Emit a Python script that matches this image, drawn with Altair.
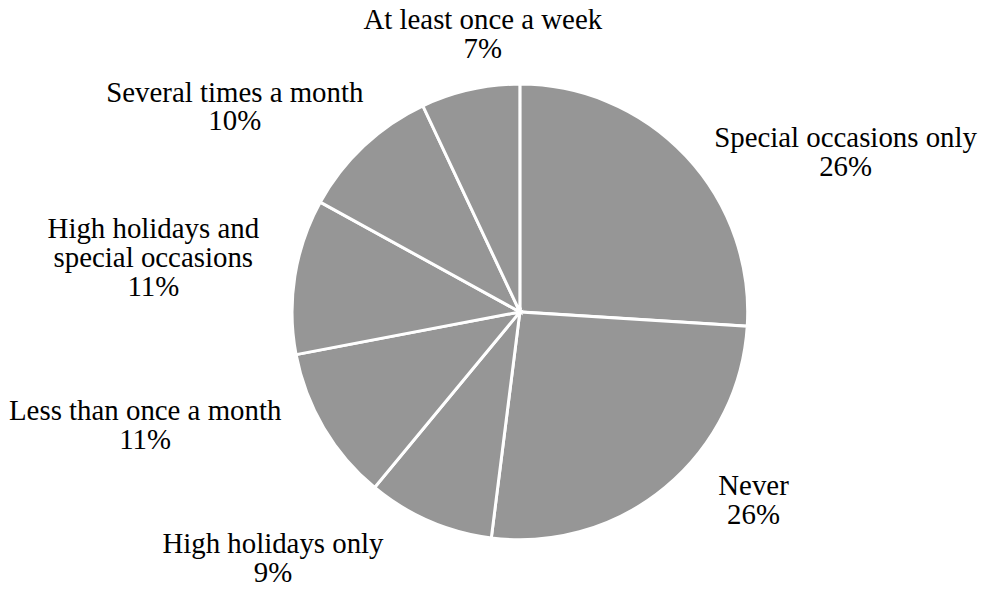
import altair as alt
import pandas as pd

# ---- data ----
categories = [
    "Special occasions only",
    "Never",
    "High holidays only",
    "Less than once a month",
    "High holidays and special occasions",
    "Several times a month",
    "At least once a week",
]
display_labels = [
    "Special occasions only",
    "Never",
    "High holidays only",
    "Less than once a month",
    "High holidays and\nspecial occasions",
    "Several times a month",
    "At least once a week",
]
shares = [26, 26, 9, 11, 11, 10, 7]

df = pd.DataFrame({
    "idx": list(range(len(categories))),
    "cat": categories,
    "lab": display_labels,
    "value": shares,
})

# ---- layout / style (not data) ----
W, H = 975, 576
CX, CY = 514.5, 304          # pie centre inside the view
R_PIE = 229
R_LAB = 290
FONT = "Liberation Serif"
FSIZE = 29
GREY = "#969696"
# per-label nudges (dx, dy) away from the slice's mid-angle anchor
NUDGE = {
    "Special occasions only": (116, 24),
    "Never": (50, -48),
    "High holidays only": (-133, -33),
    "Less than once a month": (-127, -48),
    "High holidays and special occasions": (-82, -38),
    "Several times a month": (-88, -9),
    "At least once a week": (26, -10),
}

base = alt.Chart(df)

pie = base.mark_arc(
    outerRadius=R_PIE, fill=GREY, stroke="white", strokeWidth=3
).encode(
    theta=alt.Theta("value:Q", stack=True),
    order=alt.Order("idx:Q"),
    detail="cat:N",
    x=alt.value(CX),
    y=alt.value(CY),
)

label_layers = []
for cat in categories:
    dx, dy = NUDGE[cat]
    lay = base.transform_window(
        cum="sum(value)", sort=[alt.SortField("idx")]
    ).transform_calculate(
        mid="datum.cum - datum.value / 2",
        label="datum.lab + '\\n' + datum.value + '%'",
    ).transform_filter(
        alt.datum.cat == cat
    ).mark_text(
        radius=R_LAB, dx=dx, dy=dy, align="center", baseline="middle",
        font=FONT, fontSize=FSIZE, lineHeight=29, lineBreak="\n", color="black",
    ).encode(
        theta=alt.Theta("mid:Q", stack=None,
                        scale=alt.Scale(domain=[0, 100])),
        text="label:N",
        x=alt.value(CX),
        y=alt.value(CY),
    )
    label_layers.append(lay)

chart = alt.layer(pie, *label_layers).resolve_scale(
    theta="independent"
).properties(
    width=W, height=H, padding=0, autosize=alt.AutoSizeParams(type="none")
).configure_view(stroke=None)

chart.save("out.html", embed_options={"renderer": "svg", "actions": False})
